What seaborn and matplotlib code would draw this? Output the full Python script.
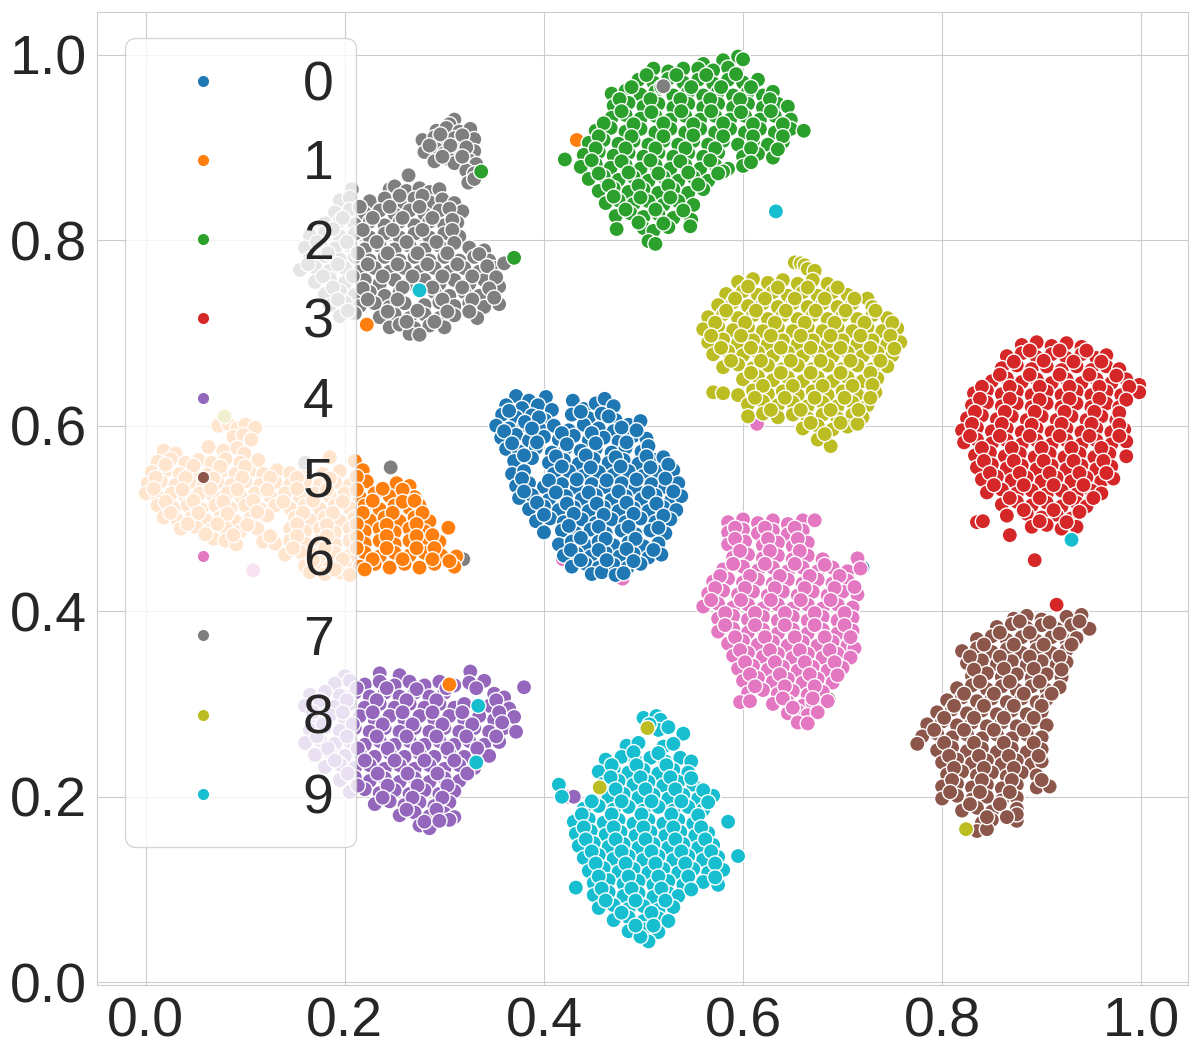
import pandas as pd
import matplotlib
matplotlib.use('Agg')
import matplotlib.pyplot as plt
from matplotlib.lines import Line2D
from matplotlib.legend_handler import HandlerLine2D
import seaborn as sns

labels = ['0', '1', '2', '3', '4', '5', '6', '7', '8', '9']

# stray points hidden under the clusters
under_pts = [('1', .433, .908), ('6', .419, .456), ('6', .479, .435), ('9', .396, .515), ('0', .72, .447),
             ('5', .686, .305), ('6', .614, .602), ('7', .319, .456), ('3', .712, .737),
             ('0', .27, .752), ('6', .424, .2), ('4', .43, .2)]
# stray points sitting on top
over_pts = [('9', .633, .831), ('7', .52, .966), ('2', .421, .887), ('2', .337, .874), ('2', .37, .781),
            ('9', .275, .746), ('1', .222, .709), ('7', .246, .555), ('1', .305, .321), ('9', .334, .298),
            ('9', .332, .237), ('9', .93, .477), ('8', .824, .165), ('8', .504, .274), ('8', .456, .21),
            ('8', .079, .61), ('6', .108, .444), ('7', .16, .56), ('3', .893, .455), ('3', .915, .407)]

pts_0 = [(.372,.632),(.385,.627),(.402,.631),(.362,.622),(.378,.619),(.394,.622),(.408,.617),(.429,.627),(.440,.618),(.452,.624),(.461,.629),(.470,.621),
 (.358,.612),(.372,.609),(.388,.611),(.401,.606),(.428,.612),(.445,.608),(.458,.613),(.472,.606),(.352,.600),(.365,.597),(.380,.601),(.396,.596),
 (.410,.600),(.425,.595),(.440,.601),(.455,.597),(.470,.594),(.485,.601),(.497,.605),(.357,.587),(.372,.590),(.385,.584),(.400,.588),(.415,.585),
 (.430,.589),(.445,.584),(.460,.587),(.475,.583),(.490,.589),(.503,.586),(.362,.575),(.375,.572),(.392,.576),(.408,.571),(.422,.576),(.437,.573),
 (.452,.575),(.468,.571),(.482,.576),(.498,.572),(.505,.578),(.370,.562),(.388,.565),(.405,.560),(.420,.563),(.435,.559),(.450,.564),(.465,.560),
 (.480,.563),(.495,.559),(.512,.563),(.520,.566),(.368,.548),(.380,.551),(.410,.548),(.425,.551),(.440,.546),(.455,.550),(.470,.547),(.485,.551),
 (.500,.546),(.515,.550),(.530,.552),(.372,.535),(.385,.538),(.400,.534),(.418,.537),(.433,.533),(.448,.537),(.462,.534),(.478,.538),(.492,.533),
 (.508,.537),(.522,.534),(.535,.538),(.375,.522),(.388,.525),(.405,.520),(.422,.524),(.438,.521),(.452,.525),(.468,.520),(.482,.524),(.498,.521),
 (.512,.525),(.528,.520),(.538,.524),(.385,.510),(.400,.513),(.415,.509),(.430,.512),(.445,.508),(.460,.512),(.475,.508),(.490,.511),(.505,.508),
 (.520,.512),(.533,.509),(.392,.497),(.406,.500),(.420,.496),(.438,.499),(.452,.495),(.468,.499),(.482,.496),(.497,.500),(.512,.496),(.527,.499),
 (.400,.485),(.418,.487),(.432,.484),(.447,.488),(.462,.484),(.478,.487),(.492,.483),(.507,.487),(.522,.484),(.415,.472),(.428,.475),(.442,.471),
 (.455,.475),(.470,.471),(.485,.474),(.500,.470),(.515,.473),(.420,.460),(.433,.462),(.447,.459),(.462,.463),(.476,.459),(.490,.462),(.505,.458),
 (.518,.461),(.428,.448),(.442,.451),(.455,.447),(.470,.450),(.484,.447),(.497,.451),(.448,.440),(.458,.442),(.472,.439),(.480,.441)]
fill_0 = [(.365,.616),(.381,.604),(.395,.609),(.437,.615),(.465,.610),(.360,.594),(.388,.597),(.418,.592),(.448,.592),(.478,.598),(.493,.595),(.368,.581),
 (.393,.582),(.423,.580),(.452,.581),(.483,.582),(.380,.568),(.412,.567),(.442,.568),(.472,.566),(.503,.567),(.418,.556),(.447,.555),(.477,.556),
 (.507,.555),(.525,.558),(.378,.543),(.405,.541),(.433,.542),(.463,.541),(.493,.542),(.522,.543),(.380,.529),(.412,.528),(.445,.528),(.475,.529),
 (.505,.528),(.530,.529),(.393,.517),(.423,.516),(.453,.516),(.483,.517),(.513,.516),(.400,.504),(.430,.505),(.460,.504),(.490,.505),(.520,.503),
 (.425,.492),(.455,.491),(.485,.491),(.515,.490),(.437,.479),(.462,.478),(.492,.478),(.427,.466),(.455,.466),(.483,.467),(.510,.466),(.437,.455),
 (.463,.455),(.490,.454)]

pts_1 = [(.073,.600),(.083,.602),(.092,.597),(.100,.601),(.110,.598),(.088,.588),(.098,.590),(.106,.585),(.018,.573),(.030,.570),(.063,.577),(.078,.573),
 (.092,.576),(.099,.570),(.012,.561),(.025,.564),(.040,.560),(.053,.563),(.066,.560),(.080,.564),(.095,.560),(.113,.563),(.185,.566),(.006,.550),
 (.020,.552),(.034,.548),(.048,.551),(.062,.547),(.076,.551),(.090,.548),(.104,.551),(.118,.548),(.132,.552),(.145,.549),(.160,.552),(.178,.548),
 (.195,.551),(.210,.562),(.218,.552),(.002,.538),(.015,.540),(.030,.536),(.044,.539),(.058,.535),(.072,.539),(.086,.536),(.100,.540),(.115,.536),
 (.130,.539),(.145,.536),(.160,.540),(.175,.536),(.190,.539),(.205,.536),(.222,.540),(.252,.538),(.265,.535),(.000,.527),(.012,.524),(.026,.527),
 (.040,.523),(.054,.527),(.068,.524),(.082,.527),(.096,.523),(.110,.527),(.125,.524),(.140,.527),(.155,.523),(.170,.527),(.185,.524),(.200,.527),
 (.215,.523),(.230,.527),(.245,.524),(.260,.527),(.270,.523),(.012,.514),(.028,.511),(.042,.514),(.056,.510),(.070,.514),(.085,.511),(.100,.514),
 (.115,.510),(.130,.514),(.145,.511),(.160,.514),(.175,.510),(.190,.514),(.205,.511),(.220,.514),(.235,.510),(.250,.514),(.265,.511),(.275,.514),
 (.018,.501),(.032,.498),(.046,.501),(.060,.498),(.075,.501),(.090,.497),(.105,.500),(.122,.503),(.150,.501),(.165,.498),(.180,.501),(.195,.497),
 (.210,.501),(.225,.498),(.240,.501),(.255,.497),(.270,.501),(.285,.497),(.035,.489),(.050,.491),(.065,.487),(.080,.490),(.095,.486),(.112,.489),
 (.145,.489),(.160,.486),(.175,.489),(.190,.485),(.205,.489),(.220,.486),(.235,.489),(.250,.485),(.265,.489),(.280,.486),(.304,.490),(.068,.478),
 (.080,.476),(.091,.472),(.118,.475),(.130,.473),(.145,.476),(.160,.473),(.175,.476),(.190,.472),(.205,.476),(.220,.473),(.235,.476),(.250,.472),
 (.265,.476),(.280,.473),(.295,.475),(.140,.461),(.155,.464),(.170,.460),(.190,.463),(.205,.460),(.220,.463),(.235,.459),(.250,.463),(.265,.460),
 (.280,.463),(.297,.460),(.312,.459),(.160,.449),(.175,.452),(.185,.448),(.200,.451),(.215,.448),(.230,.451),(.245,.447),(.260,.451),(.275,.447),
 (.290,.451),(.310,.448),(.165,.442),(.180,.440),(.195,.442),(.205,.439)]
fill_1 = [(.020,.558),(.048,.557),(.075,.556),(.100,.556),(.010,.544),(.040,.544),(.068,.543),(.097,.544),(.125,.544),(.152,.544),(.185,.543),(.212,.545),
 (.008,.532),(.037,.531),(.065,.532),(.092,.531),(.122,.531),(.152,.532),(.182,.531),(.212,.531),(.238,.532),(.258,.531),(.020,.518),(.048,.519),
 (.078,.518),(.108,.519),(.138,.518),(.168,.519),(.198,.518),(.228,.519),(.258,.518),(.270,.519),(.025,.506),(.053,.506),(.082,.505),(.112,.507),
 (.158,.506),(.188,.506),(.218,.506),(.248,.506),(.278,.506),(.042,.494),(.072,.494),(.102,.493),(.152,.494),(.182,.493),(.212,.494),(.242,.493),
 (.272,.494),(.060,.483),(.088,.482),(.125,.481),(.152,.481),(.182,.481),(.212,.480),(.242,.481),(.272,.481),(.288,.482),(.148,.468),(.180,.468),
 (.212,.468),(.242,.468),(.272,.468),(.290,.468),(.168,.455),(.198,.456),(.228,.456),(.258,.456),(.288,.456),(.305,.454),(.190,.445),(.220,.445)]

pts_2 = [(.540,.985),(.560,.990),(.580,.994),(.595,.998),(.600,.995),(.510,.985),(.525,.982),(.555,.985),(.570,.983),(.585,.986),(.495,.973),(.510,.970),
 (.525,.974),(.540,.970),(.555,.973),(.570,.969),(.585,.973),(.600,.970),(.615,.973),(.468,.958),(.482,.961),(.497,.957),(.512,.960),(.530,.956),
 (.545,.960),(.560,.956),(.575,.960),(.590,.956),(.605,.960),(.620,.956),(.630,.960),(.470,.945),(.485,.948),(.500,.944),(.515,.947),(.530,.943),
 (.545,.947),(.560,.943),(.575,.947),(.590,.943),(.605,.947),(.620,.943),(.635,.947),(.645,.944),(.468,.932),(.482,.935),(.497,.931),(.512,.934),
 (.527,.930),(.542,.934),(.557,.930),(.572,.934),(.587,.930),(.602,.934),(.617,.930),(.632,.934),(.648,.930),(.452,.918),(.467,.921),(.482,.917),
 (.497,.920),(.512,.916),(.527,.920),(.542,.916),(.557,.920),(.572,.916),(.587,.920),(.602,.916),(.617,.920),(.632,.916),(.648,.920),(.661,.918),
 (.445,.905),(.460,.908),(.475,.904),(.490,.907),(.505,.903),(.520,.907),(.535,.903),(.550,.907),(.565,.903),(.580,.907),(.595,.903),(.610,.906),
 (.625,.903),(.640,.906),(.440,.892),(.455,.895),(.470,.891),(.485,.894),(.500,.890),(.515,.894),(.530,.890),(.545,.894),(.560,.890),(.575,.894),
 (.600,.890),(.615,.893),(.630,.889),(.437,.879),(.452,.882),(.467,.878),(.482,.881),(.497,.877),(.512,.881),(.527,.877),(.542,.881),(.557,.877),
 (.572,.881),(.585,.877),(.600,.880),(.445,.866),(.460,.869),(.475,.865),(.490,.868),(.505,.864),(.520,.868),(.535,.864),(.550,.868),(.565,.864),
 (.580,.874),(.455,.853),(.470,.856),(.485,.852),(.500,.855),(.515,.851),(.530,.855),(.545,.851),(.560,.855),(.462,.840),(.475,.843),(.490,.839),
 (.505,.842),(.520,.838),(.535,.842),(.550,.838),(.472,.826),(.487,.829),(.500,.825),(.515,.828),(.530,.824),(.548,.822),(.473,.812),(.500,.813),
 (.510,.810),(.525,.814),(.547,.815),(.505,.799),(.512,.796)]
fill_2 = [(.503,.978),(.533,.978),(.563,.978),(.593,.979),(.488,.965),(.518,.965),(.548,.965),(.578,.965),(.608,.965),(.476,.952),(.507,.952),(.537,.952),
 (.567,.952),(.597,.952),(.627,.952),(.478,.939),(.508,.938),(.538,.939),(.568,.939),(.598,.938),(.628,.939),(.460,.926),(.490,.925),(.520,.926),
 (.550,.925),(.580,.926),(.610,.925),(.640,.925),(.455,.912),(.488,.912),(.520,.912),(.550,.913),(.580,.912),(.610,.912),(.640,.912),(.452,.899),
 (.482,.899),(.512,.899),(.542,.899),(.572,.899),(.608,.899),(.635,.898),(.448,.886),(.478,.885),(.507,.886),(.537,.885),(.567,.886),(.608,.884),
 (.455,.872),(.485,.873),(.515,.872),(.545,.873),(.575,.872),(.465,.859),(.495,.859),(.525,.859),(.555,.860),(.470,.847),(.497,.846),(.527,.846),
 (.482,.833),(.512,.833),(.540,.832),(.495,.819),(.520,.818)]

pts_3 = [(.880,.687),(.895,.690),(.910,.686),(.925,.689),(.940,.685),(.865,.675),(.880,.678),(.895,.674),(.910,.677),(.925,.673),(.940,.677),(.955,.673),
 (.965,.676),(.860,.662),(.875,.665),(.890,.661),(.905,.664),(.920,.660),(.935,.664),(.950,.660),(.965,.664),(.978,.661),(.850,.648),(.865,.651),
 (.880,.647),(.895,.650),(.910,.646),(.925,.650),(.940,.646),(.955,.650),(.970,.646),(.985,.650),(.998,.644),(.832,.635),(.845,.638),(.860,.634),
 (.875,.637),(.890,.633),(.905,.637),(.920,.633),(.935,.637),(.950,.633),(.965,.637),(.980,.633),(.998,.636),(.830,.622),(.845,.625),(.860,.621),
 (.875,.624),(.890,.620),(.905,.624),(.920,.620),(.935,.624),(.950,.620),(.965,.624),(.978,.620),(.825,.608),(.840,.611),(.855,.607),(.870,.610),
 (.885,.606),(.900,.610),(.915,.606),(.930,.610),(.945,.606),(.960,.610),(.975,.606),(.820,.595),(.835,.598),(.850,.594),(.865,.597),(.880,.593),
 (.895,.597),(.910,.593),(.925,.597),(.940,.593),(.955,.597),(.970,.593),(.983,.596),(.822,.582),(.835,.585),(.850,.581),(.865,.584),(.880,.580),
 (.895,.584),(.910,.580),(.925,.584),(.940,.580),(.955,.584),(.970,.580),(.985,.583),(.833,.568),(.848,.571),(.863,.567),(.878,.570),(.893,.566),
 (.908,.570),(.923,.566),(.938,.570),(.953,.566),(.968,.570),(.985,.567),(.835,.555),(.850,.558),(.865,.554),(.880,.557),(.895,.553),(.910,.557),
 (.925,.553),(.940,.557),(.955,.553),(.970,.556),(.840,.542),(.855,.545),(.870,.541),(.885,.544),(.900,.540),(.915,.544),(.930,.540),(.945,.544),
 (.960,.540),(.972,.543),(.845,.528),(.860,.531),(.875,.527),(.890,.530),(.905,.526),(.920,.530),(.935,.526),(.950,.530),(.960,.527),(.860,.515),
 (.875,.518),(.890,.514),(.905,.517),(.920,.513),(.935,.517),(.945,.513),(.865,.503),(.885,.505),(.900,.501),(.915,.504),(.930,.500),(.890,.491),
 (.905,.493),(.920,.489),(.935,.491),(.835,.496),(.841,.497),(.868,.482)]
fill_3 = [(.888,.681),(.918,.681),(.945,.681),(.872,.669),(.902,.670),(.932,.669),(.960,.669),(.858,.655),(.888,.655),(.918,.655),(.948,.655),(.975,.654),
 (.840,.642),(.868,.642),(.898,.642),(.928,.642),(.958,.642),(.988,.642),(.838,.629),(.868,.629),(.898,.628),(.928,.629),(.958,.629),(.985,.628),
 (.833,.615),(.863,.615),(.893,.615),(.923,.615),(.953,.615),(.978,.614),(.830,.602),(.860,.602),(.890,.601),(.920,.602),(.950,.602),(.978,.601),
 (.828,.589),(.858,.589),(.888,.589),(.918,.589),(.948,.589),(.978,.589),(.840,.576),(.870,.576),(.900,.576),(.930,.576),(.960,.576),(.842,.562),
 (.872,.562),(.902,.562),(.932,.562),(.962,.562),(.848,.549),(.878,.549),(.908,.549),(.938,.549),(.965,.549),(.852,.536),(.882,.536),(.912,.536),
 (.942,.536),(.868,.522),(.898,.522),(.928,.522),(.952,.522),(.882,.509),(.912,.509),(.938,.507),(.898,.497),(.925,.496)]

pts_4 = [(.200,.330),(.235,.333),(.255,.331),(.326,.335),(.190,.322),(.205,.325),(.220,.321),(.235,.324),(.250,.320),(.265,.324),(.280,.320),(.295,.324),
 (.310,.320),(.325,.323),(.340,.325),(.380,.318),(.165,.310),(.180,.313),(.195,.309),(.210,.312),(.225,.308),(.240,.312),(.255,.308),(.270,.312),
 (.285,.308),(.300,.312),(.350,.311),(.360,.307),(.160,.298),(.175,.301),(.190,.297),(.205,.300),(.220,.296),(.235,.300),(.250,.296),(.265,.300),
 (.280,.296),(.295,.300),(.310,.296),(.320,.300),(.345,.298),(.365,.295),(.170,.285),(.185,.288),(.200,.284),(.215,.287),(.230,.283),(.245,.287),
 (.260,.283),(.275,.287),(.290,.283),(.305,.287),(.320,.283),(.335,.287),(.350,.283),(.370,.286),(.165,.272),(.180,.275),(.195,.271),(.210,.274),
 (.225,.270),(.240,.274),(.255,.270),(.270,.274),(.285,.270),(.300,.274),(.315,.270),(.330,.274),(.345,.270),(.360,.274),(.372,.270),(.160,.258),
 (.175,.261),(.190,.257),(.205,.260),(.220,.256),(.235,.260),(.250,.256),(.265,.260),(.280,.256),(.295,.260),(.310,.256),(.325,.260),(.340,.256),
 (.355,.259),(.170,.245),(.185,.248),(.200,.244),(.215,.247),(.230,.243),(.245,.247),(.260,.243),(.275,.247),(.290,.243),(.305,.247),(.320,.243),
 (.335,.247),(.345,.244),(.180,.232),(.195,.235),(.210,.231),(.225,.234),(.240,.230),(.255,.234),(.270,.230),(.285,.234),(.300,.230),(.315,.234),
 (.330,.231),(.195,.218),(.210,.221),(.225,.217),(.240,.220),(.255,.216),(.270,.220),(.285,.216),(.300,.220),(.315,.217),(.205,.205),(.220,.208),
 (.235,.204),(.250,.207),(.265,.203),(.280,.207),(.295,.203),(.310,.206),(.230,.192),(.245,.195),(.260,.191),(.275,.194),(.290,.190),(.305,.194),
 (.255,.180),(.270,.183),(.285,.179),(.300,.182),(.310,.178),(.275,.169),(.285,.166),(.305,.175)]
fill_4 = [(.212,.317),(.242,.317),(.272,.316),(.302,.317),(.332,.317),(.175,.304),(.202,.304),(.232,.304),(.262,.304),(.292,.304),(.352,.304),(.168,.291),
 (.198,.291),(.228,.291),(.258,.291),(.288,.291),(.318,.291),(.355,.291),(.178,.278),(.208,.278),(.238,.278),(.268,.278),(.298,.278),(.328,.278),
 (.358,.280),(.172,.265),(.202,.265),(.232,.265),(.262,.265),(.292,.265),(.322,.265),(.352,.265),(.183,.252),(.213,.252),(.243,.252),(.273,.252),
 (.303,.252),(.333,.252),(.190,.239),(.220,.239),(.250,.239),(.280,.239),(.310,.239),(.203,.225),(.233,.225),(.263,.225),(.293,.225),(.323,.225),
 (.213,.212),(.243,.212),(.273,.212),(.303,.212),(.238,.199),(.268,.199),(.298,.199),(.262,.186),(.292,.186),(.280,.173),(.295,.174)]

pts_5 = [(.872,.392),(.885,.395),(.900,.391),(.925,.394),(.940,.396),(.855,.383),(.870,.386),(.885,.382),(.900,.385),(.915,.381),(.930,.385),(.948,.381),
 (.835,.370),(.850,.373),(.865,.369),(.880,.372),(.895,.368),(.910,.372),(.925,.368),(.935,.371),(.820,.357),(.835,.360),(.850,.356),(.865,.359),
 (.880,.355),(.895,.359),(.910,.355),(.925,.358),(.825,.344),(.840,.347),(.855,.343),(.870,.346),(.885,.342),(.900,.346),(.915,.342),(.925,.345),
 (.830,.330),(.845,.333),(.860,.329),(.875,.332),(.890,.328),(.905,.332),(.920,.329),(.815,.317),(.830,.320),(.845,.316),(.860,.319),(.875,.315),
 (.890,.319),(.905,.315),(.918,.318),(.805,.304),(.820,.307),(.835,.303),(.850,.306),(.865,.302),(.880,.306),(.895,.302),(.905,.305),(.795,.291),
 (.810,.294),(.825,.290),(.840,.293),(.855,.289),(.870,.293),(.885,.289),(.900,.292),(.785,.278),(.800,.281),(.815,.277),(.830,.280),(.845,.276),
 (.860,.280),(.875,.276),(.890,.280),(.905,.277),(.780,.265),(.795,.268),(.810,.264),(.825,.267),(.840,.263),(.855,.267),(.870,.263),(.885,.267),
 (.900,.264),(.775,.257),(.795,.250),(.810,.253),(.825,.249),(.840,.252),(.855,.248),(.870,.252),(.885,.248),(.900,.251),(.800,.237),(.815,.240),
 (.830,.236),(.845,.239),(.860,.235),(.875,.239),(.890,.235),(.900,.238),(.805,.224),(.820,.227),(.835,.223),(.850,.226),(.865,.222),(.880,.226),
 (.895,.223),(.800,.211),(.815,.214),(.830,.210),(.845,.213),(.860,.209),(.875,.213),(.895,.210),(.908,.211),(.800,.198),(.815,.201),(.830,.197),
 (.845,.200),(.860,.196),(.875,.199),(.820,.185),(.835,.188),(.850,.184),(.875,.187),(.840,.172),(.850,.175),(.875,.174),(.835,.163),(.845,.165),
 (.875,.181)]
fill_5 = [(.878,.389),(.908,.388),(.938,.389),(.858,.377),(.888,.377),(.918,.376),(.842,.364),(.872,.364),(.902,.364),(.930,.364),(.828,.351),(.858,.351),
 (.888,.351),(.918,.351),(.832,.337),(.862,.338),(.892,.338),(.920,.337),(.838,.324),(.868,.324),(.898,.324),(.822,.311),(.852,.311),(.882,.311),
 (.910,.311),(.812,.298),(.842,.298),(.872,.298),(.900,.298),(.802,.285),(.832,.285),(.862,.285),(.892,.285),(.792,.272),(.822,.272),(.852,.272),
 (.882,.272),(.802,.258),(.832,.258),(.862,.258),(.892,.258),(.807,.244),(.837,.244),(.867,.244),(.897,.244),(.812,.231),(.842,.231),(.872,.231),
 (.810,.218),(.840,.218),(.870,.218),(.900,.218),(.808,.205),(.838,.205),(.868,.205),(.828,.192),(.858,.192),(.845,.178),(.865,.178)]

pts_6 = [(.585,.496),(.600,.499),(.615,.495),(.630,.498),(.645,.494),(.660,.498),(.672,.498),(.585,.485),(.600,.488),(.615,.484),(.630,.487),(.645,.483),
 (.660,.487),(.585,.472),(.602,.475),(.620,.471),(.635,.474),(.650,.470),(.665,.474),(.590,.458),(.605,.461),(.620,.457),(.635,.460),(.650,.456),
 (.665,.460),(.680,.456),(.715,.457),(.580,.445),(.600,.448),(.615,.444),(.630,.447),(.645,.443),(.660,.447),(.675,.443),(.690,.447),(.705,.443),
 (.718,.446),(.570,.432),(.585,.435),(.600,.431),(.615,.434),(.630,.430),(.645,.434),(.660,.430),(.675,.434),(.690,.430),(.705,.433),(.565,.419),
 (.580,.422),(.595,.418),(.610,.421),(.625,.417),(.640,.421),(.655,.417),(.670,.421),(.685,.417),(.700,.421),(.715,.418),(.560,.405),(.575,.408),
 (.590,.404),(.605,.407),(.620,.403),(.635,.407),(.650,.403),(.665,.407),(.680,.403),(.695,.407),(.710,.404),(.575,.392),(.590,.395),(.605,.391),
 (.620,.394),(.635,.390),(.650,.394),(.665,.390),(.680,.394),(.695,.390),(.710,.393),(.575,.378),(.590,.381),(.605,.377),(.620,.380),(.635,.376),
 (.650,.380),(.665,.376),(.680,.380),(.695,.376),(.710,.379),(.585,.365),(.600,.368),(.615,.364),(.630,.367),(.645,.363),(.660,.367),(.675,.363),
 (.690,.367),(.705,.363),(.712,.360),(.590,.352),(.605,.355),(.620,.351),(.635,.354),(.650,.350),(.665,.354),(.680,.350),(.695,.354),(.708,.350),
 (.595,.338),(.610,.341),(.625,.337),(.640,.340),(.655,.336),(.670,.340),(.685,.336),(.700,.339),(.600,.325),(.615,.328),(.630,.324),(.645,.327),
 (.660,.323),(.675,.327),(.690,.323),(.605,.312),(.620,.315),(.635,.311),(.650,.314),(.665,.310),(.680,.313),(.597,.302),(.607,.303),(.630,.300),
 (.645,.302),(.660,.298),(.670,.301),(.685,.303),(.645,.290),(.655,.292),(.665,.288),(.675,.291),(.655,.280),(.665,.279)]
fill_6 = [(.592,.490),(.622,.490),(.652,.490),(.592,.478),(.625,.478),(.655,.478),(.597,.465),(.627,.465),(.657,.465),(.590,.451),(.622,.451),(.652,.451),
 (.682,.450),(.577,.438),(.607,.438),(.637,.438),(.667,.438),(.697,.438),(.572,.425),(.602,.425),(.632,.425),(.662,.425),(.692,.425),(.712,.426),
 (.568,.412),(.598,.412),(.628,.412),(.658,.412),(.688,.412),(.582,.398),(.612,.398),(.642,.398),(.672,.398),(.702,.398),(.582,.385),(.612,.385),
 (.642,.385),(.672,.385),(.702,.385),(.592,.372),(.622,.372),(.652,.372),(.682,.372),(.708,.372),(.597,.358),(.627,.358),(.657,.358),(.687,.358),
 (.602,.345),(.632,.345),(.662,.345),(.692,.345),(.607,.332),(.637,.332),(.667,.332),(.695,.331),(.612,.319),(.642,.319),(.672,.319),(.640,.306),
 (.670,.306),(.650,.296)]

pts_7 = [(.310,.930),(.305,.925),(.292,.918),(.302,.921),(.315,.917),(.326,.920),(.278,.908),(.290,.911),(.300,.907),(.310,.910),(.320,.906),(.330,.909),
 (.280,.895),(.292,.898),(.300,.894),(.315,.897),(.325,.893),(.330,.896),(.290,.885),(.305,.887),(.310,.883),(.325,.886),(.332,.882),(.322,.875),
 (.330,.872),(.324,.862),(.330,.866),(.207,.855),(.245,.855),(.250,.858),(.262,.853),(.264,.870),(.275,.856),(.285,.852),(.295,.855),(.195,.843),
 (.205,.846),(.225,.842),(.240,.845),(.255,.841),(.270,.845),(.285,.841),(.298,.844),(.310,.840),(.190,.830),(.205,.833),(.220,.829),(.235,.832),
 (.250,.828),(.265,.832),(.280,.828),(.295,.832),(.310,.828),(.318,.831),(.180,.818),(.195,.821),(.210,.817),(.225,.820),(.240,.816),(.255,.820),
 (.270,.816),(.285,.820),(.300,.816),(.313,.819),(.165,.805),(.180,.808),(.195,.804),(.210,.807),(.225,.803),(.240,.807),(.255,.803),(.270,.807),
 (.285,.803),(.300,.807),(.315,.804),(.160,.792),(.175,.795),(.190,.791),(.205,.794),(.220,.790),(.235,.794),(.250,.790),(.265,.794),(.280,.790),
 (.295,.794),(.325,.792),(.340,.789),(.165,.780),(.180,.783),(.195,.779),(.210,.782),(.225,.778),(.240,.782),(.255,.778),(.270,.782),(.285,.778),
 (.300,.782),(.315,.778),(.330,.782),(.345,.778),(.155,.768),(.170,.771),(.185,.767),(.200,.770),(.215,.766),(.230,.770),(.245,.766),(.260,.770),
 (.275,.766),(.290,.770),(.305,.766),(.320,.770),(.335,.766),(.350,.770),(.360,.775),(.170,.755),(.185,.758),(.200,.754),(.220,.757),(.235,.753),
 (.250,.757),(.265,.753),(.280,.757),(.295,.753),(.310,.757),(.325,.753),(.340,.757),(.180,.742),(.195,.745),(.210,.741),(.225,.744),(.240,.740),
 (.255,.744),(.290,.744),(.305,.740),(.320,.744),(.335,.740),(.355,.750),(.185,.730),(.200,.733),(.215,.729),(.230,.732),(.245,.728),(.260,.732),
 (.280,.730),(.295,.733),(.310,.729),(.325,.732),(.340,.728),(.355,.731),(.195,.718),(.210,.721),(.235,.717),(.250,.720),(.265,.716),(.280,.720),
 (.295,.716),(.310,.719),(.333,.716),(.245,.706),(.255,.709),(.270,.705),(.285,.708),(.300,.706),(.265,.699),(.275,.698)]
fill_7 = [(.296,.914),(.318,.913),(.285,.902),(.306,.902),(.322,.900),(.298,.890),(.318,.890),(.255,.848),(.278,.848),(.215,.836),(.245,.836),(.275,.836),
 (.305,.834),(.198,.824),(.228,.824),(.258,.824),(.288,.824),(.308,.822),(.188,.812),(.218,.811),(.248,.811),(.278,.811),(.308,.811),(.172,.798),
 (.202,.798),(.232,.798),(.262,.798),(.292,.798),(.310,.797),(.183,.786),(.213,.786),(.243,.786),(.273,.786),(.303,.786),(.335,.785),(.163,.774),
 (.193,.774),(.223,.774),(.253,.774),(.283,.774),(.313,.774),(.343,.772),(.178,.761),(.208,.761),(.238,.761),(.268,.761),(.298,.761),(.328,.761),
 (.352,.760),(.188,.749),(.218,.748),(.258,.749),(.288,.749),(.318,.749),(.345,.748),(.193,.736),(.223,.736),(.253,.736),(.298,.736),(.328,.736),
 (.350,.738),(.203,.724),(.243,.723),(.273,.724),(.303,.723),(.325,.723),(.262,.712),(.290,.712)]

pts_8 = [(.652,.776),(.658,.775),(.662,.773),(.665,.769),(.672,.767),(.595,.755),(.610,.758),(.625,.754),(.640,.757),(.655,.753),(.670,.757),(.685,.753),
 (.583,.742),(.600,.745),(.615,.741),(.630,.744),(.645,.740),(.660,.744),(.675,.740),(.690,.744),(.705,.741),(.725,.737),(.575,.730),(.590,.733),
 (.605,.729),(.620,.732),(.635,.728),(.650,.732),(.665,.728),(.680,.732),(.695,.728),(.710,.732),(.730,.728),(.565,.717),(.580,.720),(.595,.716),
 (.610,.719),(.625,.715),(.640,.719),(.655,.715),(.670,.719),(.685,.715),(.700,.719),(.715,.715),(.730,.719),(.745,.716),(.560,.704),(.575,.707),
 (.590,.703),(.605,.706),(.620,.702),(.635,.706),(.650,.702),(.665,.706),(.680,.702),(.695,.706),(.710,.702),(.725,.706),(.740,.702),(.755,.705),
 (.565,.690),(.580,.693),(.595,.689),(.610,.692),(.625,.688),(.640,.692),(.655,.688),(.670,.692),(.685,.688),(.700,.692),(.715,.688),(.730,.692),
 (.745,.688),(.758,.690),(.570,.677),(.585,.680),(.600,.676),(.615,.679),(.630,.675),(.645,.679),(.660,.675),(.675,.679),(.690,.675),(.705,.679),
 (.720,.675),(.735,.679),(.750,.676),(.580,.663),(.595,.666),(.610,.662),(.625,.665),(.640,.661),(.655,.665),(.670,.661),(.685,.665),(.700,.661),
 (.715,.665),(.730,.661),(.745,.664),(.600,.650),(.615,.653),(.630,.649),(.645,.652),(.660,.648),(.675,.652),(.690,.648),(.705,.652),(.720,.648),
 (.735,.651),(.570,.636),(.580,.635),(.595,.633),(.610,.638),(.625,.634),(.640,.637),(.655,.633),(.670,.637),(.685,.633),(.700,.637),(.715,.633),
 (.733,.636),(.605,.623),(.620,.626),(.635,.622),(.650,.625),(.665,.621),(.680,.625),(.695,.621),(.710,.625),(.725,.622),(.605,.610),(.620,.613),
 (.635,.609),(.650,.612),(.665,.608),(.680,.612),(.695,.608),(.710,.612),(.720,.609),(.660,.597),(.675,.600),(.690,.596),(.705,.599),(.715,.602),
 (.675,.585),(.688,.578)]
fill_8 = [(.605,.750),(.635,.749),(.665,.749),(.695,.749),(.592,.737),(.622,.737),(.652,.737),(.682,.737),(.712,.737),(.583,.724),(.613,.724),(.643,.724),
 (.673,.724),(.703,.724),(.733,.724),(.572,.711),(.602,.711),(.632,.711),(.662,.711),(.692,.711),(.722,.711),(.750,.711),(.568,.697),(.598,.697),
 (.628,.697),(.658,.697),(.688,.697),(.718,.697),(.748,.697),(.578,.684),(.608,.684),(.638,.684),(.668,.684),(.698,.684),(.728,.684),(.752,.683),
 (.588,.670),(.618,.670),(.648,.670),(.678,.670),(.708,.670),(.738,.670),(.608,.657),(.638,.657),(.668,.657),(.698,.657),(.728,.657),(.620,.643),
 (.650,.643),(.680,.643),(.710,.643),(.730,.644),(.612,.630),(.642,.630),(.672,.630),(.702,.630),(.728,.630),(.628,.617),(.658,.617),(.688,.617),
 (.716,.617),(.668,.603),(.698,.603),(.682,.591)]

pts_9 = [(.500,.285),(.513,.287),(.517,.283),(.515,.272),(.525,.275),(.540,.268),(.483,.255),(.495,.258),(.520,.254),(.530,.257),(.462,.240),(.478,.243),
 (.492,.239),(.507,.242),(.522,.238),(.537,.242),(.548,.238),(.455,.227),(.470,.230),(.485,.226),(.500,.229),(.515,.225),(.530,.229),(.545,.226),
 (.415,.213),(.460,.214),(.475,.217),(.490,.213),(.505,.216),(.520,.212),(.535,.216),(.550,.213),(.418,.200),(.465,.200),(.480,.203),(.495,.199),
 (.510,.202),(.525,.198),(.540,.202),(.555,.198),(.570,.201),(.440,.187),(.455,.190),(.470,.186),(.485,.189),(.500,.185),(.515,.189),(.530,.185),
 (.545,.189),(.560,.186),(.430,.173),(.445,.176),(.460,.172),(.475,.175),(.490,.171),(.505,.175),(.520,.171),(.535,.175),(.550,.171),(.585,.173),
 (.432,.160),(.447,.163),(.462,.159),(.477,.162),(.492,.158),(.507,.162),(.522,.158),(.537,.162),(.552,.158),(.565,.161),(.435,.147),(.450,.150),
 (.465,.146),(.480,.149),(.495,.145),(.510,.149),(.525,.145),(.540,.149),(.555,.145),(.570,.148),(.440,.134),(.455,.137),(.470,.133),(.485,.136),
 (.500,.132),(.515,.136),(.530,.132),(.545,.136),(.560,.132),(.575,.135),(.595,.136),(.445,.120),(.460,.123),(.475,.119),(.490,.122),(.505,.118),
 (.520,.122),(.535,.118),(.550,.122),(.565,.118),(.580,.121),(.432,.102),(.450,.107),(.465,.110),(.480,.106),(.495,.109),(.510,.105),(.525,.109),
 (.540,.105),(.560,.108),(.575,.105),(.450,.094),(.465,.097),(.480,.093),(.495,.096),(.510,.092),(.525,.096),(.535,.093),(.455,.080),(.470,.083),
 (.485,.079),(.500,.082),(.515,.078),(.530,.081),(.470,.067),(.485,.070),(.500,.066),(.515,.069),(.525,.066),(.485,.055),(.500,.057),(.515,.054),
 (.505,.044),(.497,.049)]
fill_9 = [(.506,.278),(.490,.248),(.515,.247),(.468,.234),(.493,.234),(.523,.234),(.467,.221),(.497,.221),(.527,.221),(.548,.220),(.472,.208),(.502,.208),
 (.532,.208),(.560,.207),(.448,.195),(.478,.195),(.508,.195),(.538,.195),(.565,.194),(.438,.181),(.468,.181),(.498,.181),(.528,.181),(.555,.180),
 (.440,.167),(.470,.167),(.500,.167),(.530,.167),(.558,.167),(.442,.154),(.472,.154),(.502,.154),(.532,.154),(.562,.154),(.448,.141),(.478,.141),
 (.508,.141),(.538,.141),(.568,.141),(.452,.128),(.482,.128),(.512,.128),(.542,.128),(.572,.128),(.455,.114),(.485,.114),(.515,.114),(.545,.114),
 (.572,.113),(.458,.101),(.488,.101),(.518,.101),(.548,.100),(.462,.088),(.492,.088),(.522,.088),(.478,.075),(.508,.075),(.492,.061),(.510,.061)]

clusters = [pts_0 + fill_0, pts_1 + fill_1, pts_2 + fill_2, pts_3 + fill_3, pts_4 + fill_4,
            pts_5 + fill_5, pts_6 + fill_6, pts_7 + fill_7, pts_8 + fill_8, pts_9 + fill_9]

rows = list(under_pts)
for lab, pts in zip(labels, clusters):
    rows += [(lab, px, py) for px, py in pts]
rows += over_pts
df = pd.DataFrame(rows, columns=['label', 'x', 'y'])

sns.set_style('whitegrid')
plt.rcParams['font.family'] = ['Liberation Sans', 'DejaVu Sans']

fig, ax = plt.subplots(figsize=(12, 10.5), dpi=100)
fig.subplots_adjust(left=97/1200, right=1188/1200, top=1-12/1050, bottom=1-985/1050)

sns.scatterplot(data=df, x='x', y='y', hue='label', hue_order=labels, palette='tab10',
                s=120, edgecolor='white', linewidth=1, ax=ax, legend='full')

ax.set_xlim(-0.049, 1.047)
ax.set_ylim(-0.003, 1.046)
ax.set_xticks([0.0, 0.2, 0.4, 0.6, 0.8, 1.0])
ax.set_yticks([0.0, 0.2, 0.4, 0.6, 0.8, 1.0])
ax.tick_params(labelsize=40)
ax.tick_params(axis='x', pad=4.5)
ax.set_xlabel('')
ax.set_ylabel('')

leg = ax.legend(loc='upper left', bbox_to_anchor=(28/1091, 1-26/973), borderaxespad=0,
                fontsize=40, labelspacing=0.49,
                handler_map={Line2D: HandlerLine2D(ypad=-0.1)})
for h in leg.legend_handles:
    h.set_markersize(9)

fig.savefig('out.png', dpi=100)
